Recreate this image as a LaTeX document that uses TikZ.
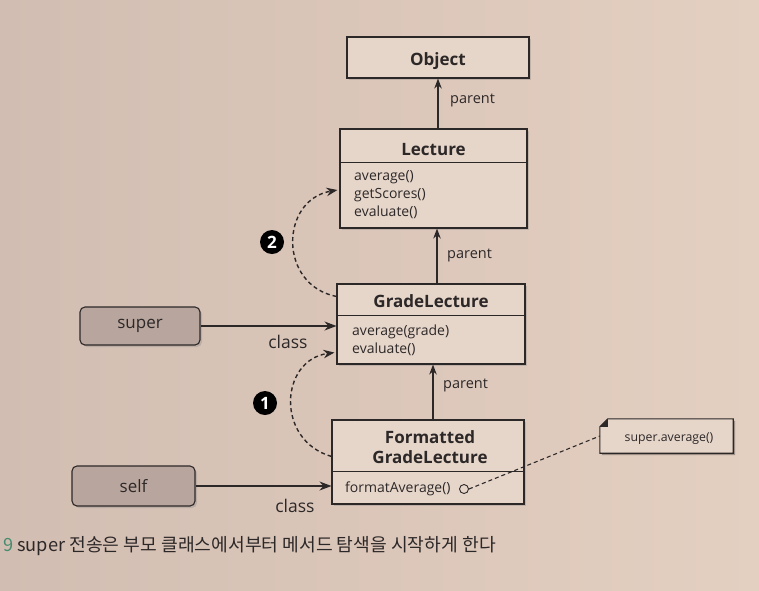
\documentclass[tikz,border=0pt]{standalone}
\usepackage{fontspec}
\setmainfont{Open Sans}
\newfontfamily\kr{Noto Sans CJK KR}
\usetikzlibrary{arrows.meta,calc,shadows}
\definecolor{bgL}{RGB}{210,189,178}
\definecolor{bgR}{RGB}{228,208,193}
\definecolor{boxfill}{RGB}{230,214,202}
\definecolor{varfill}{RGB}{184,165,157}
\definecolor{ink}{RGB}{45,40,40}
\definecolor{capgreen}{RGB}{70,140,112}
\begin{document}
\begin{tikzpicture}[x=1pt,y=1pt,
  classbox/.style={draw=ink, line width=1.1pt, fill=boxfill, inner sep=0pt,
    drop shadow={opacity=.3, shadow xshift=2pt, shadow yshift=-2pt}},
  sepline/.style={draw=ink, line width=1pt},
  title/.style={font=\fontsize{17}{20}\selectfont\bfseries, text=ink, inner sep=0pt, anchor=base},
  meth/.style={font=\fontsize{14}{17}\selectfont, text=ink, inner sep=0pt, anchor=base west},
  plbl/.style={font=\fontsize{14.5}{17}\selectfont, text=ink, inner sep=0pt, anchor=base west},
  clbl/.style={font=\fontsize{17.5}{20}\selectfont, text=ink, inner sep=0pt, anchor=base},
  varbox/.style={draw=ink, line width=1.1pt, rounded corners=5pt, fill=varfill,
    font=\fontsize{17}{20}\selectfont, text=ink, inner sep=0pt,
    drop shadow={opacity=.3, shadow xshift=2pt, shadow yshift=-2pt}},
  harr/.style={draw=ink, line width=1.1pt, -{Stealth[length=12pt,width=9pt]}},
  varr/.style={draw=ink, line width=1.1pt, -{Stealth[length=10pt,width=7.5pt]}},
  darr/.style={draw=ink, line width=1.4pt, dash pattern=on 4pt off 3pt, -{Stealth[length=11pt,width=8.5pt]}},
  notedash/.style={draw=ink, line width=1.1pt, dash pattern=on 4pt off 3pt},
  num/.style={circle, fill=black, text=white, font=\fontsize{17}{17}\selectfont\bfseries, inner sep=0pt, minimum size=24pt}
]
\useasboundingbox (0,0) rectangle (759,-590);
\shade[left color=bgL, right color=bgR] (0,0) rectangle (759,-590);

% Object
\node[classbox, minimum width=182pt, minimum height=41pt] (object) at (438,-57.5) {};
\node[title] (objectT) at (438,-65) {Object};

% Lecture
\node[classbox, minimum width=187pt, minimum height=99pt] (lecture) at (433.5,-178.5) {};
\draw[sepline] ($(lecture.north west)+(0,-34)$) -- ($(lecture.north east)+(0,-34)$);
\node[title] (lectureT) at (433.5,-155) {Lecture};
\node[meth] (lm1) at (354,-180) {average()};
\node[meth] (lm2) at (354,-198) {getScores()};
\node[meth] (lm3) at (354,-216) {evaluate()};

% GradeLecture
\node[classbox, minimum width=188pt, minimum height=80pt] (grade) at (431,-324) {};
\draw[sepline] ($(grade.north west)+(0,-32)$) -- ($(grade.north east)+(0,-32)$);
\node[title] (gradeT) at (431,-307) {GradeLecture};
\node[meth] (gm1) at (352,-335) {average(grade)};
\node[meth] (gm2) at (352,-353) {evaluate()};

% FormattedGradeLecture
\node[classbox, minimum width=192pt, minimum height=84pt] (fmt) at (428,-462) {};
\draw[sepline] ($(fmt.north west)+(0,-52.5)$) -- ($(fmt.north east)+(0,-52.5)$);
\node[title] (fmtT1) at (430,-443) {Formatted};
\node[title] (fmtT2) at (430,-463) {GradeLecture};
\node[meth] (fm1) at (345,-492) {formatAverage()};
\node[circle, draw=ink, line width=0.9pt, minimum size=9pt, inner sep=0pt] (dot) at (464,-489) {};

% parent arrows
\coordinate (ax1) at (438,0);
\coordinate (ax2) at (437,0);
\coordinate (ax3) at (433,0);
\draw[varr] (lecture.north -| ax1) -- (object.south -| ax1);
\draw[varr] (grade.north -| ax2) -- (lecture.south -| ax2);
\draw[varr] (fmt.north -| ax3) -- (grade.south -| ax3);
\node[plbl] (p1) at (450,-103) {parent};
\node[plbl] (p2) at (447,-258) {parent};
\node[plbl] (p3) at (443,-388) {parent};

% super / self
\node[varbox, minimum width=120pt, minimum height=38pt] (super) at (140,-326) {super};
\node[varbox, minimum width=123pt, minimum height=40pt] (self) at (133.5,-486) {self};
\draw[harr] (super.east) -- (super.east -| grade.west);
\draw[harr] (self.east) -- (self.east -| fmt.west);
\node[clbl] (cls1) at (288,-348) {class};
\node[clbl] (cls2) at (295,-512) {class};

% dashed lookup arrows
\draw[darr] ($(fmt.north west)+(0,-37)$) .. controls (275,-440) and (280,-360) .. ($(grade.south west)+(-2,12)$);
\draw[darr] ($(grade.north west)+(0,-13)$) .. controls (278,-285) and (280,-200) .. ($(lecture.west)+(-2,-11.5)$);
\node[num] (n1) at (265,-403) {1};
\node[num] (n2) at (272,-242) {2};

% note
\node[minimum width=133pt, minimum height=34pt, inner sep=0pt] (note) at (666.5,-436) {};
\fill[black, opacity=.3] ($(note.north west)+(2,-10)$) -- ($(note.north west)+(10,-2)$) -- ($(note.north east)+(2,-2)$) -- ($(note.south east)+(2,-2)$) -- ($(note.south west)+(2,-2)$) -- cycle;
\draw[draw=ink, line width=1.1pt, fill=boxfill] ($(note.north west)+(0,-8)$) -- ($(note.north west)+(8,0)$) -- (note.north east) -- (note.south east) -- (note.south west) -- cycle;
\fill[ink] ($(note.north west)+(0,-8)$) -- ($(note.north west)+(8,0)$) -- ($(note.north west)+(8,-8)$) -- cycle;
\node[font=\fontsize{12.3}{14}\selectfont, text=ink, inner sep=0pt, anchor=base] (noteT) at (669,-441) {super.average()};
\draw[notedash] (dot.east) -- (note.west);

% caption
\node[anchor=base west, inner sep=0pt, text=ink, font=\kr\fontsize{18.2}{21}\selectfont] (cap) at (3,-551)
  {\textcolor{capgreen}{9} super 전송은 부모 클래스에서부터 메서드 탐색을 시작하게 한다};
\end{tikzpicture}
\end{document}
